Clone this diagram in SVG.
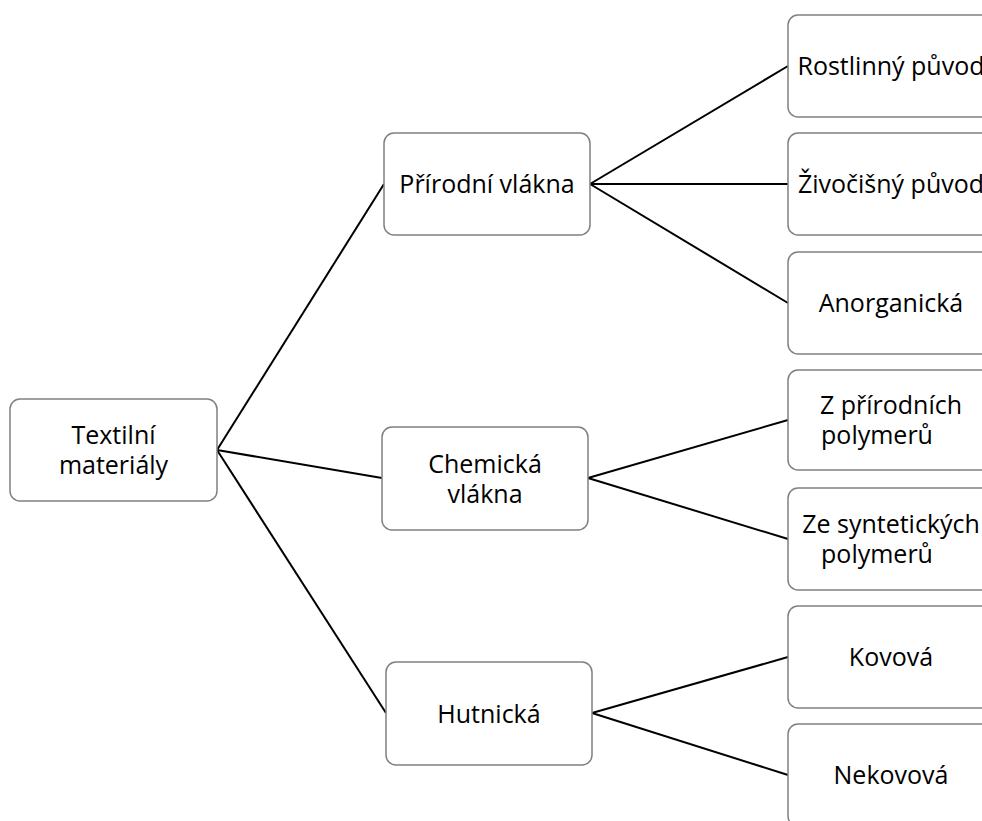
<svg xmlns="http://www.w3.org/2000/svg" width="982" height="821" viewBox="0 0 982 821">
<style>
.box{fill:#ffffff;stroke:#808080;stroke-width:1.5}
.lbl{font-family:"Open Sans","Liberation Sans",sans-serif;font-size:25px;fill:#000000;text-anchor:middle}
.con{stroke:#000000;stroke-width:2;fill:none}
</style>
<rect width="982" height="821" fill="#ffffff"/>
<g id="connectors">
<line class="con" x1="217" y1="450" x2="384" y2="184"/>
<line class="con" x1="217" y1="450" x2="382" y2="478"/>
<line class="con" x1="217" y1="450" x2="386" y2="713"/>
<line class="con" x1="590" y1="184" x2="788" y2="66"/>
<line class="con" x1="590" y1="184" x2="788" y2="184"/>
<line class="con" x1="590" y1="184" x2="788" y2="303"/>
<line class="con" x1="588" y1="478" x2="788" y2="420"/>
<line class="con" x1="588" y1="478" x2="788" y2="539"/>
<line class="con" x1="592" y1="713" x2="788" y2="657"/>
<line class="con" x1="592" y1="713" x2="788" y2="775"/>
</g>
<g id="n-textilni">
<rect class="box" x="10" y="399" width="207" height="102" rx="10"/>
<text class="lbl" x="113.5" y="444">Textilní</text>
<text class="lbl" x="113.5" y="474">materiály</text>
</g>
<g id="n-prirodni">
<rect class="box" x="384" y="133" width="206" height="102" rx="10"/>
<text class="lbl" x="487" y="193">Přírodní vlákna</text>
</g>
<g id="n-chemicka">
<rect class="box" x="382" y="427" width="206" height="103" rx="10"/>
<text class="lbl" x="485" y="473">Chemická</text>
<text class="lbl" x="485" y="503">vlákna</text>
</g>
<g id="n-hutnicka">
<rect class="box" x="386" y="662" width="206" height="103" rx="10"/>
<text class="lbl" x="489" y="723">Hutnická</text>
</g>
<g id="n-rostlinny">
<rect class="box" x="788" y="15" width="206" height="102" rx="10"/>
<text class="lbl" x="891" y="75">Rostlinný původ</text>
</g>
<g id="n-zivocisny">
<rect class="box" x="788" y="133" width="206" height="102" rx="10"/>
<text class="lbl" x="891" y="193">Živočišný původ</text>
</g>
<g id="n-anorganicka">
<rect class="box" x="788" y="252" width="206" height="102" rx="10"/>
<text class="lbl" x="891" y="312">Anorganická</text>
</g>
<g id="n-zprirodnich">
<rect class="box" x="788" y="370" width="206" height="100" rx="10"/>
<text class="lbl" x="891" y="414">Z přírodních</text>
<text class="lbl" x="877" y="444">polymerů</text>
</g>
<g id="n-zesyntetickych">
<rect class="box" x="788" y="488" width="206" height="102" rx="10"/>
<text class="lbl" x="891" y="533">Ze syntetických</text>
<text class="lbl" x="877" y="563">polymerů</text>
</g>
<g id="n-kovova">
<rect class="box" x="788" y="606" width="206" height="102" rx="10"/>
<text class="lbl" x="891" y="666">Kovová</text>
</g>
<g id="n-nekovova">
<rect class="box" x="788" y="724" width="206" height="102" rx="10"/>
<text class="lbl" x="891" y="784">Nekovová</text>
</g>
</svg>
